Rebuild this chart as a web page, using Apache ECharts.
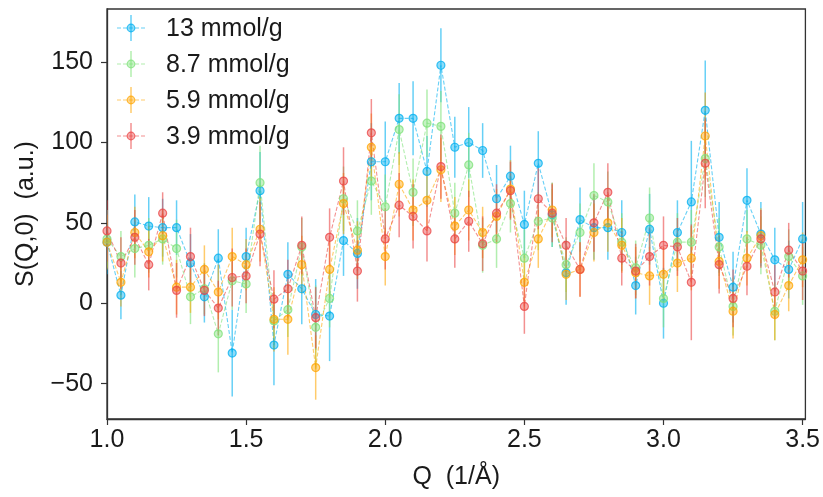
<!DOCTYPE html>
<html>
<head>
<meta charset="utf-8">
<script src="https://cdn.jsdelivr.net/npm/echarts@6/dist/echarts.min.js"></script>
<style>
html,body{margin:0;padding:0;background:#fff;}
#chart{width:823px;height:497px;}
</style>
</head>
<body>
<div id="chart"></div>
<script>
const Q = [1.00,1.05,1.10,1.15,1.20,1.25,1.30,1.35,1.40,1.45,1.50,1.55,1.60,1.65,1.70,1.75,1.80,1.85,1.90,1.95,2.00,2.05,2.10,2.15,2.20,2.25,2.30,2.35,2.40,2.45,2.50,2.55,2.60,2.65,2.70,2.75,2.80,2.85,2.90,2.95,3.00,3.05,3.10,3.15,3.20,3.25,3.30,3.35,3.40,3.45,3.50];

const labels = ['13 mmol/g','8.7 mmol/g','5.9 mmol/g','3.9 mmol/g'];

const s13 = [38,5,50.6,48,47,47,25,4,28,-31,29,70,-26,18,9,-7,-8,39,31,88,88,115,115,82,148,97,100,95,65,79,49,87,55,19,52,47,47,44,11,46,0,44,63,120,41,10,64,43,27,21,40];
const e13 = [20,15,17,18,18,17,18,16,18,27,18,24,25,20,22,22,28,22,22,24,25,22,23,22,23,19,22,17,21,19,21,20,20,20,20,20,20,20,18,22,22,20,38,31,22,22,20,20,20,18,23];

const s87 = [40,29,34,36,40,34,4,9,-19,14,12,75,-11,-4,35,-15,3,65,45,76,60,108,69,112,110,56,86,36,40,62,28,51,53,24,44,67,63,38,22,53,3,38,38,90,35,-2,40,36,-5,29,17];
const e87 = [18,16,18,17,16,18,17,16,24,18,18,23,18,17,18,26,18,20,19,21,20,22,21,21,22,19,20,17,18,18,18,18,18,17,18,20,19,18,17,19,18,18,20,24,18,18,18,18,18,17,18];

const s59 = [38,13,44,32,42,10,10,21,7,29,24,46,-10,-10,24,-40,21,62,33,97,29,74,58,64,83,48,58,44,54,71,13,40,58,18,21,44,50,36,19,17,18,25,28,104,26,-5,28,42,-7,11,27];
const e59 = [17,15,16,16,16,17,16,15,17,18,16,20,20,22,18,20,18,19,18,21,18,20,19,19,20,18,19,16,17,18,17,18,17,16,17,18,18,17,16,18,17,18,20,27,17,17,17,17,16,16,17];

const s39 = [45,25,41,24,56,8,29,8,-3,16,17,43,2.5,9,36,-9,41,76,20,106,40,61,54,45,85,40,51,37,56,70,-2,65,56,36,21,50,69,28,20,29,36,35,13,87,24,3,23,40,7,33,20];
const e39 = [19,16,17,16,13,17,18,16,17,18,17,20,18,18,18,19,18,21,19,21,19,20,20,19,20,18,19,17,18,18,17,19,18,17,17,18,18,17,17,18,18,18,36,28,18,18,18,18,17,17,18];

const xTicks = [1.0,1.5,2.0,2.5,3.0,3.5];
const yTicks = [-50,0,50,100,150];

const rgb = [[0,176,240],[127,226,122],[255,165,0],[235,70,70]];
const alphas = [0.6,0.6,0.58,0.6];
const vals = [s13,s87,s59,s39];
const errs = [e13,e87,e59,e39];

const rgba = (k, a) => 'rgba(' + rgb[k].join(',') + ',' + a + ')';

const FONT = 'Liberation Sans';
const FS = 25;
const TXT = '#1a1a1a';
const SPINE = '#333';

const series = [];
vals.forEach((v, k) => {
  const e = errs[k];
  series.push({
    type: 'custom',
    name: labels[k] + ' err',
    clip: true,
    data: Q.map((q, i) => [q, v[i] - e[i], v[i] + e[i]]),
    encode: {x: 0, y: [1, 2]},
    renderItem: (params, api) => {
      const x = api.value(0);
      const p1 = api.coord([x, api.value(1)]);
      const p2 = api.coord([x, api.value(2)]);
      return {
        type: 'line',
        shape: {x1: p1[0], y1: p1[1], x2: p2[0], y2: p2[1]},
        style: {stroke: rgba(k, alphas[k]), lineWidth: 1.5}
      };
    },
    silent: true
  });
  series.push({
    type: 'line',
    name: labels[k],
    data: Q.map((q, i) => [q, v[i]]),
    symbol: 'circle',
    symbolSize: 8,
    showAllSymbol: true,
    lineStyle: {color: rgba(k, alphas[k]), width: 1.1, type: [4, 2]},
    itemStyle: {color: rgba(k, 0.45), borderColor: rgba(k, 0.75), borderWidth: 1.2},
    emphasis: {disabled: true},
    silent: true
  });
});

// legend drawn as graphic elements
const legendGraphics = [];
labels.forEach((lab, k) => {
  const yc = 28 + 36 * k;
  legendGraphics.push({type: 'line', shape: {x1: 117, y1: yc, x2: 146, y2: yc}, style: {stroke: rgba(k, alphas[k]), lineWidth: 1.1, lineDash: [4, 2]}});
  legendGraphics.push({type: 'line', shape: {x1: 131, y1: yc - 13, x2: 131, y2: yc + 13}, style: {stroke: rgba(k, alphas[k]), lineWidth: 1.5}});
  legendGraphics.push({type: 'circle', shape: {cx: 131, cy: yc, r: 3.8}, style: {fill: rgba(k, 0.45), stroke: rgba(k, 0.75), lineWidth: 1.2}});
  legendGraphics.push({type: 'text', x: 166, y: yc + 1, style: {text: lab, font: FS + 'px "' + FONT + '"', fill: TXT, verticalAlign: 'middle', align: 'left'}});
});

const chart = echarts.init(document.getElementById('chart'), null, {renderer: 'canvas'});
chart.setOption({
  animation: false,
  backgroundColor: '#fff',
  grid: {left: 107, right: 15, top: 9, bottom: 78, show: true, borderColor: SPINE, borderWidth: 1.3, backgroundColor: 'transparent'},
  xAxis: {
    type: 'value', min: 1.0, max: 3.51,
    name: 'Q  (1/Å)', nameLocation: 'middle', nameGap: 46,
    nameTextStyle: {fontFamily: FONT, fontSize: FS, color: TXT},
    axisLine: {show: true, onZero: false, lineStyle: {color: SPINE, width: 1.3}},
    axisTick: {show: true, inside: false, length: 6, customValues: xTicks, lineStyle: {color: SPINE, width: 1.2}},
    axisLabel: {show: true, margin: 9, customValues: xTicks, fontFamily: FONT, fontSize: FS, color: TXT, formatter: v => Number(v).toFixed(1)},
    splitLine: {show: false}
  },
  yAxis: {
    type: 'value', min: -72, max: 183,
    name: 'S(Q,0)  (a.u.)', nameLocation: 'middle', nameGap: 68, nameRotate: 90,
    nameTextStyle: {fontFamily: FONT, fontSize: FS, color: TXT},
    axisLine: {show: true, onZero: false, lineStyle: {color: SPINE, width: 1.3}},
    axisTick: {show: true, inside: false, length: 6, customValues: yTicks, lineStyle: {color: SPINE, width: 1.2}},
    axisLabel: {show: true, margin: 14, customValues: yTicks, fontFamily: FONT, fontSize: FS, color: TXT, formatter: v => (v < 0 ? '\u2212' + Math.abs(v) : String(v))},
    splitLine: {show: false}
  },
  graphic: legendGraphics,
  series: series
});
</script>
</body>
</html>
